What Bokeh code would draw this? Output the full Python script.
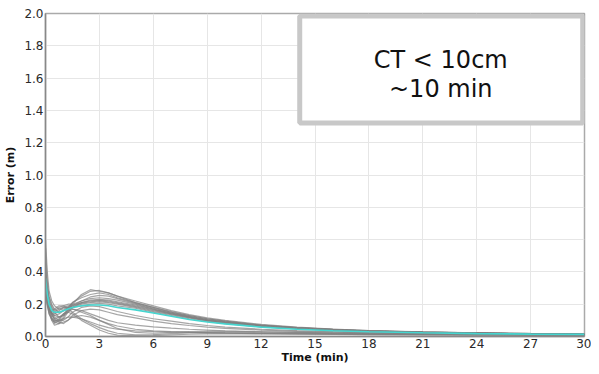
from bokeh.plotting import figure
from bokeh.models import FixedTicker, Range1d
from bokeh.embed import file_html
from bokeh.resources import INLINE
from bokeh.core.properties import value

time_min = [0, 0.1, 0.2, 0.35, 0.5, 0.75, 1, 1.25, 1.5, 2, 2.5, 3, 3.5, 4, 5, 6, 7, 8, 9, 10, 12, 14, 16, 18, 21, 24, 27, 30]

run_u1 = [0.45, 0.30, 0.22, 0.18, 0.15, 0.12, 0.13, 0.16, 0.20, 0.26, 0.29, 0.28, 0.27, 0.25, 0.21, 0.18, 0.15, 0.13, 0.11, 0.095, 0.07, 0.055, 0.045, 0.035, 0.028, 0.022, 0.018, 0.015]
run_u2 = [0.38, 0.28, 0.20, 0.14, 0.10, 0.09, 0.12, 0.17, 0.21, 0.25, 0.28, 0.285, 0.27, 0.25, 0.22, 0.19, 0.16, 0.135, 0.115, 0.10, 0.075, 0.058, 0.046, 0.037, 0.029, 0.023, 0.019, 0.016]
run_u3 = [0.55, 0.35, 0.25, 0.20, 0.17, 0.15, 0.16, 0.18, 0.21, 0.24, 0.26, 0.27, 0.26, 0.24, 0.21, 0.18, 0.155, 0.13, 0.11, 0.095, 0.07, 0.055, 0.044, 0.036, 0.028, 0.022, 0.018, 0.015]
run_u4 = [0.32, 0.26, 0.18, 0.12, 0.08, 0.10, 0.14, 0.17, 0.19, 0.22, 0.245, 0.255, 0.25, 0.235, 0.205, 0.175, 0.15, 0.125, 0.105, 0.09, 0.068, 0.053, 0.043, 0.034, 0.027, 0.021, 0.017, 0.014]
run_u5 = [0.42, 0.30, 0.24, 0.19, 0.16, 0.18, 0.19, 0.20, 0.20, 0.22, 0.235, 0.24, 0.235, 0.225, 0.20, 0.17, 0.145, 0.125, 0.105, 0.09, 0.068, 0.053, 0.042, 0.034, 0.027, 0.021, 0.017, 0.014]
run_u6 = [0.30, 0.22, 0.16, 0.10, 0.07, 0.08, 0.11, 0.15, 0.18, 0.21, 0.225, 0.23, 0.225, 0.215, 0.195, 0.17, 0.145, 0.12, 0.10, 0.088, 0.066, 0.052, 0.042, 0.034, 0.026, 0.021, 0.017, 0.014]
run_u7 = [0.36, 0.27, 0.21, 0.17, 0.14, 0.16, 0.18, 0.19, 0.195, 0.21, 0.22, 0.225, 0.22, 0.21, 0.19, 0.165, 0.14, 0.12, 0.10, 0.086, 0.065, 0.05, 0.041, 0.033, 0.026, 0.021, 0.017, 0.014]
run_u8 = [0.60, 0.40, 0.28, 0.22, 0.19, 0.17, 0.17, 0.18, 0.19, 0.205, 0.215, 0.22, 0.215, 0.205, 0.185, 0.16, 0.14, 0.118, 0.10, 0.085, 0.064, 0.05, 0.04, 0.032, 0.025, 0.02, 0.016, 0.013]
run_u9 = [0.28, 0.20, 0.14, 0.10, 0.09, 0.11, 0.14, 0.16, 0.18, 0.20, 0.21, 0.215, 0.21, 0.20, 0.18, 0.155, 0.135, 0.115, 0.097, 0.083, 0.062, 0.048, 0.039, 0.031, 0.025, 0.02, 0.016, 0.013]
run_u10 = [0.33, 0.24, 0.19, 0.15, 0.13, 0.14, 0.16, 0.17, 0.18, 0.19, 0.20, 0.205, 0.20, 0.19, 0.175, 0.15, 0.13, 0.11, 0.093, 0.08, 0.06, 0.047, 0.038, 0.03, 0.024, 0.019, 0.015, 0.012]
run_l1 = [0.40, 0.28, 0.20, 0.15, 0.12, 0.10, 0.10, 0.12, 0.15, 0.18, 0.19, 0.185, 0.17, 0.155, 0.13, 0.11, 0.095, 0.08, 0.068, 0.058, 0.045, 0.036, 0.03, 0.025, 0.02, 0.016, 0.013, 0.011]
run_l2 = [0.35, 0.25, 0.18, 0.14, 0.11, 0.09, 0.08, 0.10, 0.13, 0.16, 0.17, 0.165, 0.15, 0.135, 0.115, 0.095, 0.08, 0.068, 0.058, 0.05, 0.04, 0.032, 0.027, 0.022, 0.018, 0.015, 0.012, 0.01]
run_l3 = [0.30, 0.22, 0.17, 0.14, 0.13, 0.12, 0.13, 0.15, 0.17, 0.16, 0.14, 0.12, 0.10, 0.085, 0.07, 0.06, 0.052, 0.045, 0.04, 0.035, 0.03, 0.025, 0.021, 0.018, 0.015, 0.012, 0.01, 0.009]
run_l4 = [0.27, 0.20, 0.16, 0.14, 0.15, 0.17, 0.18, 0.18, 0.17, 0.15, 0.13, 0.10, 0.08, 0.065, 0.045, 0.035, 0.03, 0.026, 0.023, 0.02, 0.018, 0.016, 0.014, 0.012, 0.011, 0.01, 0.009, 0.008]
run_l5 = [0.34, 0.24, 0.18, 0.16, 0.17, 0.19, 0.19, 0.17, 0.15, 0.11, 0.08, 0.055, 0.035, 0.02, 0.01, 0.012, 0.018, 0.022, 0.024, 0.024, 0.022, 0.02, 0.018, 0.016, 0.014, 0.012, 0.01, 0.009]
run_l6 = [0.29, 0.21, 0.15, 0.11, 0.09, 0.08, 0.09, 0.10, 0.12, 0.13, 0.12, 0.10, 0.075, 0.05, 0.025, 0.02, 0.025, 0.03, 0.032, 0.032, 0.028, 0.025, 0.022, 0.019, 0.016, 0.013, 0.011, 0.01]
run_l7 = [0.31, 0.23, 0.17, 0.13, 0.11, 0.12, 0.14, 0.15, 0.14, 0.10, 0.07, 0.04, 0.02, 0.008, 0.004, 0.006, 0.01, 0.014, 0.016, 0.017, 0.016, 0.015, 0.013, 0.012, 0.01, 0.009, 0.008, 0.007]
run_l8 = [0.26, 0.19, 0.14, 0.11, 0.10, 0.10, 0.11, 0.12, 0.12, 0.11, 0.09, 0.07, 0.055, 0.045, 0.035, 0.03, 0.028, 0.026, 0.024, 0.022, 0.02, 0.018, 0.016, 0.014, 0.012, 0.011, 0.01, 0.009]

mean_err = [0.36, 0.26, 0.20, 0.16, 0.15, 0.15, 0.16, 0.17, 0.18, 0.19, 0.195, 0.195, 0.19, 0.18, 0.165, 0.145, 0.125, 0.105, 0.09, 0.078, 0.058, 0.045, 0.036, 0.029, 0.023, 0.018, 0.015, 0.013]

x_ticks = [0, 3, 6, 9, 12, 15, 18, 21, 24, 27, 30]
y_ticks = [0.0, 0.2, 0.4, 0.6, 0.8, 1.0, 1.2, 1.4, 1.6, 1.8, 2.0]

note_lines = ["CT < 10cm", "~10 min"]
note_x = [22.0, 22.0]
note_y = [1.71, 1.535]
note_box = dict(left=[14.15], right=[29.9], bottom=[1.322], top=[1.985])

gray_runs = [run_u1, run_u2, run_u3, run_u4, run_u5, run_u6, run_u7, run_u8, run_u9, run_u10,
             run_l1, run_l2, run_l3, run_l4, run_l5, run_l6, run_l7, run_l8]

p = figure(width=591, height=366, output_backend="svg", toolbar_location=None,
           x_range=Range1d(0, 30), y_range=Range1d(0, 2.0),
           min_border_left=45, min_border_right=7, min_border_top=13, min_border_bottom=27)
p.background_fill_color = "white"
p.border_fill_color = "white"
p.outline_line_color = "#aaaaaa"
p.outline_line_width = 1.5

for run in gray_runs:
    p.line(time_min, run, line_color="#808080", line_width=1.2, line_alpha=0.7)
p.line(time_min, mean_err, line_color="#45d6d0", line_width=1.6)

p.quad(left=note_box["left"], right=note_box["right"], bottom=note_box["bottom"], top=note_box["top"],
       fill_color="white", line_color="#c8c8c8", line_width=5)

p.text(x=note_x, y=note_y, text=note_lines, text_align="center",
       text_baseline="middle", text_font=value("DejaVu Sans"),
       text_font_size="24px", text_color="#111111")

for ax in (p.xaxis[0], p.yaxis[0]):
    ax.major_label_text_font = "DejaVu Sans"
    ax.major_label_text_font_size = "12px"
    ax.major_label_text_color = "#2a2a2a"
    ax.axis_label_text_font = "DejaVu Sans"
    ax.axis_label_text_font_size = "11px"
    ax.axis_label_text_font_style = "bold"
    ax.axis_label_text_color = "#111111"
    ax.axis_line_color = "#888888"
    ax.axis_line_width = 1.5
    ax.major_tick_out = 0
    ax.major_tick_in = 0
    ax.minor_tick_out = 0
    ax.minor_tick_in = 0

p.xaxis.ticker = FixedTicker(ticks=x_ticks)
p.yaxis.ticker = FixedTicker(ticks=y_ticks)
p.yaxis.major_label_overrides = {t: f"{t:.1f}" for t in y_ticks}
p.xaxis.axis_label = "Time (min)"
p.yaxis.axis_label = "Error (m)"
p.xaxis.major_label_standoff = 2
p.xaxis.axis_label_standoff = 0
p.yaxis.major_label_standoff = 2
p.yaxis.axis_label_standoff = 4

p.xgrid.grid_line_color = "#e6e6e6"
p.ygrid.grid_line_color = "#e6e6e6"
p.xgrid.grid_line_width = 1
p.ygrid.grid_line_width = 1

open("out.html", "w").write(file_html(p, INLINE))
